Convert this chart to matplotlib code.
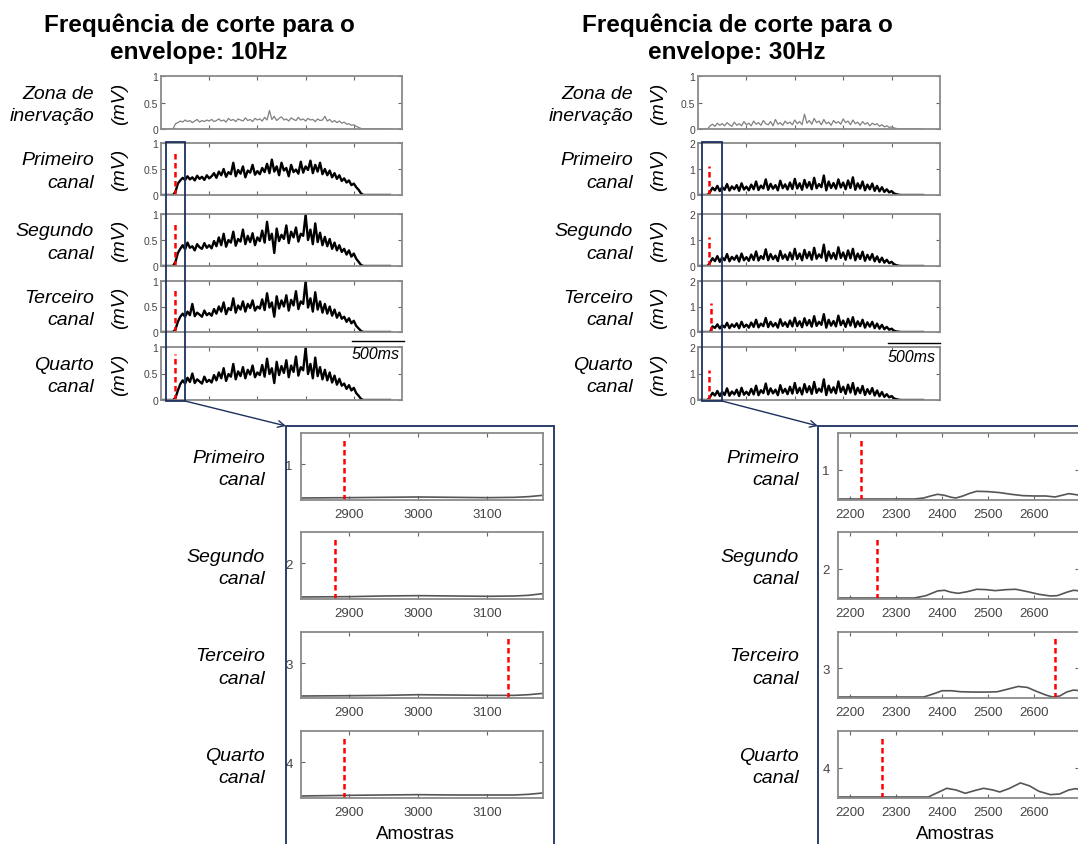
import numpy as np
import matplotlib
matplotlib.use('Agg')
import matplotlib.pyplot as plt
from matplotlib.patches import Rectangle, FancyArrowPatch
from matplotlib.lines import Line2D

plt.rcParams['font.family'] = ['Liberation Sans', 'DejaVu Sans']

# ---------------- data ----------------
step = 50  # samples between points of the envelopes

titles = ['Frequência de corte para o\nenvelope: 10Hz',
          'Frequência de corte para o\nenvelope: 30Hz']
row_labels = ['Zona de\ninervação', 'Primeiro\ncanal', 'Segundo\ncanal',
              'Terceiro\ncanal', 'Quarto\ncanal']

zona10 = [0, 0, 0, 0, 0, 0,
          0.10, 0.12, 0.15, 0.13, 0.17, 0.14, 0.16, 0.12, 0.15, 0.18, 0.13, 0.16, 0.14, 0.17, 0.15,
          0.18, 0.14, 0.16, 0.19, 0.15, 0.17, 0.13, 0.20, 0.16, 0.18, 0.14, 0.19, 0.17, 0.15, 0.21, 0.16, 0.18, 0.14, 0.20, 0.17,
          0.19, 0.15, 0.22, 0.17, 0.35, 0.18, 0.24, 0.16, 0.20, 0.23, 0.17, 0.19, 0.15, 0.21, 0.18, 0.16, 0.22, 0.17, 0.19, 0.15,
          0.20, 0.17, 0.18, 0.14, 0.19, 0.16, 0.17, 0.24, 0.15, 0.18, 0.13, 0.16, 0.12, 0.15, 0.11,
          0.13, 0.09, 0.10, 0.07, 0.08, 0.05, 0.03, 0.01,
          0, 0, 0, 0, 0, 0, 0, 0, 0, 0, 0, 0]

env10_ch1 = [0, 0, 0, 0, 0, 0,
             0.06, 0.22, 0.28, 0.33, 0.29, 0.36, 0.30, 0.34, 0.28, 0.37, 0.31, 0.35, 0.29, 0.38, 0.32,
             0.36, 0.42, 0.33, 0.45, 0.38, 0.50, 0.35, 0.44, 0.40, 0.62, 0.36, 0.48, 0.41, 0.55, 0.34, 0.47, 0.43, 0.58, 0.39, 0.46,
             0.40, 0.52, 0.44, 0.60, 0.42, 0.68, 0.45, 0.55, 0.38, 0.62, 0.47, 0.52, 0.36, 0.58, 0.44, 0.49, 0.41, 0.64, 0.43, 0.55,
             0.48, 0.66, 0.42, 0.58, 0.45, 0.62, 0.40, 0.50, 0.38, 0.47, 0.34, 0.42, 0.31, 0.38, 0.27,
             0.32, 0.24, 0.28, 0.19, 0.22, 0.15, 0.10, 0.03,
             0, 0, 0, 0, 0, 0, 0, 0, 0, 0, 0, 0]
env10_ch2 = [0, 0, 0, 0, 0, 0,
             0.08, 0.25, 0.33, 0.40, 0.32, 0.45, 0.35, 0.38, 0.30, 0.42, 0.36, 0.33, 0.44, 0.35, 0.40,
             0.34, 0.48, 0.38, 0.55, 0.40, 0.62, 0.37, 0.50, 0.45, 0.66, 0.39, 0.52, 0.47, 0.70, 0.42, 0.58, 0.46, 0.63, 0.40, 0.55,
             0.48, 0.68, 0.45, 0.85, 0.50, 0.62, 0.25, 0.72, 0.48, 0.60, 0.52, 0.78, 0.44, 0.66, 0.55, 0.74, 0.47, 0.62, 0.58, 0.98,
             0.50, 0.70, 0.42, 0.82, 0.46, 0.64, 0.40, 0.56, 0.38, 0.52, 0.33, 0.45, 0.30, 0.40, 0.27,
             0.33, 0.22, 0.30, 0.18, 0.24, 0.14, 0.08, 0.02,
             0, 0, 0, 0, 0, 0, 0, 0, 0, 0, 0, 0]
env10_ch3 = [0, 0, 0, 0, 0, 0,
             0.05, 0.20, 0.30, 0.36, 0.30, 0.40, 0.33, 0.55, 0.31, 0.38, 0.34, 0.30, 0.42, 0.33, 0.37,
             0.32, 0.45, 0.36, 0.50, 0.40, 0.58, 0.35, 0.47, 0.43, 0.66, 0.38, 0.52, 0.44, 0.60, 0.40, 0.55, 0.47, 0.62, 0.42, 0.50,
             0.46, 0.64, 0.43, 0.76, 0.48, 0.58, 0.30, 0.70, 0.46, 0.62, 0.50, 0.72, 0.42, 0.63, 0.52, 0.80, 0.45, 0.60, 0.55, 0.99,
             0.48, 0.66, 0.40, 0.78, 0.44, 0.60, 0.38, 0.55, 0.36, 0.50, 0.32, 0.44, 0.28, 0.38, 0.26,
             0.30, 0.20, 0.27, 0.17, 0.22, 0.12, 0.07, 0.02,
             0, 0, 0, 0, 0, 0, 0, 0, 0, 0, 0, 0]
env10_ch4 = [0, 0, 0, 0, 0, 0,
             0.04, 0.18, 0.30, 0.37, 0.31, 0.42, 0.34, 0.50, 0.32, 0.39, 0.35, 0.31, 0.44, 0.34, 0.38,
             0.33, 0.47, 0.37, 0.52, 0.41, 0.60, 0.36, 0.49, 0.44, 0.68, 0.39, 0.54, 0.45, 0.62, 0.41, 0.57, 0.48, 0.65, 0.43, 0.52,
             0.47, 0.66, 0.44, 0.78, 0.49, 0.60, 0.32, 0.72, 0.47, 0.64, 0.51, 0.75, 0.43, 0.65, 0.53, 0.82, 0.46, 0.62, 0.56, 0.98,
             0.49, 0.68, 0.41, 0.80, 0.45, 0.62, 0.39, 0.57, 0.37, 0.52, 0.33, 0.46, 0.29, 0.40, 0.27,
             0.31, 0.21, 0.28, 0.18, 0.23, 0.13, 0.08, 0.02,
             0, 0, 0, 0, 0, 0, 0, 0, 0, 0, 0, 0]

zona30 = [0, 0, 0, 0, 0,
          0.06, 0.09, 0.05, 0.11, 0.07, 0.10, 0.06, 0.12, 0.08, 0.05, 0.13, 0.07, 0.10, 0.06, 0.14, 0.08,
          0.11, 0.06, 0.15, 0.09, 0.12, 0.07, 0.16, 0.10, 0.08, 0.14, 0.06, 0.18, 0.09, 0.12, 0.07, 0.15, 0.10, 0.13, 0.08, 0.17,
          0.10, 0.14, 0.08, 0.28, 0.11, 0.16, 0.09, 0.20, 0.12, 0.15, 0.08, 0.18, 0.10, 0.13, 0.07, 0.16, 0.11, 0.14, 0.09, 0.19,
          0.12, 0.15, 0.08, 0.17, 0.10, 0.13, 0.07, 0.14, 0.09, 0.12, 0.06, 0.11, 0.08, 0.10, 0.05,
          0.08, 0.04, 0.06, 0.03, 0.04, 0.02, 0.01, 0.0,
          0, 0, 0, 0, 0, 0, 0, 0, 0, 0]

env30_ch1 = [0, 0, 0, 0, 0,
             0.12, 0.28, 0.18, 0.35, 0.15, 0.30, 0.20, 0.42, 0.17, 0.33, 0.22, 0.38, 0.16, 0.45, 0.21, 0.32,
             0.18, 0.40, 0.22, 0.52, 0.19, 0.36, 0.25, 0.60, 0.20, 0.43, 0.24, 0.38, 0.18, 0.55, 0.26, 0.41, 0.21, 0.48, 0.23, 0.62,
             0.25, 0.45, 0.20, 0.58, 0.28, 0.50, 0.22, 0.66, 0.26, 0.42, 0.30, 0.75, 0.18, 0.52, 0.27, 0.46, 0.24, 0.60, 0.29, 0.48,
             0.22, 0.56, 0.27, 0.68, 0.20, 0.45, 0.25, 0.52, 0.18, 0.40, 0.22, 0.44, 0.16, 0.35, 0.14,
             0.30, 0.12, 0.22, 0.10, 0.15, 0.06, 0.03, 0.01,
             0, 0, 0, 0, 0, 0, 0, 0, 0, 0]
env30_ch2 = [0, 0, 0, 0, 0,
             0.14, 0.30, 0.19, 0.38, 0.16, 0.33, 0.22, 0.46, 0.18, 0.35, 0.24, 0.40, 0.17, 0.48, 0.22, 0.34,
             0.20, 0.44, 0.23, 0.56, 0.21, 0.38, 0.27, 0.64, 0.22, 0.46, 0.26, 0.40, 0.19, 0.58, 0.28, 0.44, 0.23, 0.52, 0.25, 0.66,
             0.27, 0.48, 0.22, 0.62, 0.30, 0.54, 0.24, 0.70, 0.28, 0.45, 0.32, 0.82, 0.20, 0.56, 0.29, 0.50, 0.26, 0.72, 0.31, 0.52,
             0.24, 0.60, 0.29, 0.66, 0.22, 0.48, 0.27, 0.55, 0.20, 0.43, 0.24, 0.46, 0.18, 0.37, 0.15,
             0.32, 0.13, 0.24, 0.11, 0.16, 0.07, 0.03, 0.01,
             0, 0, 0, 0, 0, 0, 0, 0, 0, 0]
env30_ch3 = [0, 0, 0, 0, 0, 0,
             0.22, 0.16, 0.30, 0.14, 0.27, 0.18, 0.36, 0.15, 0.30, 0.20, 0.34, 0.15, 0.40, 0.19, 0.29,
             0.17, 0.37, 0.20, 0.48, 0.18, 0.33, 0.23, 0.55, 0.19, 0.40, 0.22, 0.35, 0.17, 0.50, 0.24, 0.38, 0.20, 0.45, 0.22, 0.56,
             0.23, 0.42, 0.19, 0.54, 0.26, 0.47, 0.21, 0.62, 0.24, 0.40, 0.28, 0.70, 0.17, 0.48, 0.25, 0.43, 0.22, 0.64, 0.27, 0.45,
             0.20, 0.52, 0.25, 0.58, 0.19, 0.42, 0.23, 0.48, 0.17, 0.38, 0.21, 0.40, 0.15, 0.33, 0.13,
             0.28, 0.11, 0.20, 0.09, 0.13, 0.05, 0.02, 0.01,
             0, 0, 0, 0, 0, 0, 0, 0, 0, 0]
env30_ch4 = [0, 0, 0, 0, 0,
             0.12, 0.27, 0.17, 0.34, 0.15, 0.31, 0.19, 0.44, 0.16, 0.32, 0.21, 0.39, 0.15, 0.46, 0.20, 0.31,
             0.19, 0.42, 0.21, 0.54, 0.18, 0.37, 0.26, 0.62, 0.21, 0.44, 0.25, 0.39, 0.18, 0.56, 0.27, 0.42, 0.22, 0.50, 0.24, 0.64,
             0.26, 0.46, 0.21, 0.60, 0.29, 0.52, 0.23, 0.68, 0.27, 0.43, 0.31, 0.78, 0.19, 0.54, 0.28, 0.48, 0.25, 0.70, 0.30, 0.50,
             0.23, 0.58, 0.28, 0.64, 0.21, 0.46, 0.26, 0.53, 0.19, 0.41, 0.23, 0.45, 0.17, 0.36, 0.14,
             0.30, 0.12, 0.22, 0.10, 0.15, 0.06, 0.03, 0.01,
             0, 0, 0, 0, 0, 0, 0, 0, 0, 0]

# onset markers (samples) on the overview plots
onset10 = [290, 290, 300, 290]
onset30 = [227, 227, 268, 227]

# zoomed windows (Amostras)
zoom10_x = [2830, 2900, 2950, 3000, 3050, 3100, 3140, 3160, 3181]
zoom10_y = [[0.030, 0.035, 0.040, 0.045, 0.040, 0.035, 0.040, 0.050, 0.070],
            [0.030, 0.035, 0.045, 0.050, 0.045, 0.040, 0.045, 0.055, 0.080],
            [0.030, 0.035, 0.040, 0.050, 0.045, 0.040, 0.040, 0.050, 0.070],
            [0.030, 0.040, 0.045, 0.050, 0.045, 0.045, 0.045, 0.055, 0.075]]
red10 = [2893, 2880, 3130, 2893]

zoom30_x = [[2174, 2250, 2340, 2360, 2375, 2390, 2405, 2420, 2430, 2445, 2460, 2475, 2500, 2525, 2550, 2575, 2600, 2625, 2645, 2660, 2675, 2690, 2700],
            [2174, 2250, 2340, 2365, 2390, 2405, 2420, 2435, 2455, 2475, 2495, 2515, 2540, 2560, 2585, 2610, 2635, 2650, 2670, 2685, 2700],
            [2174, 2250, 2360, 2380, 2400, 2420, 2440, 2470, 2500, 2520, 2540, 2565, 2585, 2605, 2625, 2640, 2655, 2670, 2685, 2700],
            [2174, 2250, 2370, 2390, 2410, 2430, 2450, 2470, 2490, 2510, 2525, 2545, 2570, 2590, 2610, 2635, 2655, 2675, 2690, 2700]]
zoom30_y = [[0.015, 0.015, 0.015, 0.03, 0.06, 0.085, 0.07, 0.04, 0.03, 0.06, 0.10, 0.13, 0.125, 0.11, 0.085, 0.065, 0.06, 0.06, 0.045, 0.07, 0.095, 0.08, 0.07],
            [0.015, 0.015, 0.015, 0.05, 0.12, 0.13, 0.10, 0.085, 0.11, 0.145, 0.14, 0.125, 0.14, 0.145, 0.11, 0.07, 0.045, 0.05, 0.10, 0.13, 0.12],
            [0.015, 0.015, 0.015, 0.06, 0.11, 0.11, 0.095, 0.09, 0.09, 0.095, 0.13, 0.175, 0.16, 0.10, 0.045, 0.015, 0.03, 0.09, 0.12, 0.11],
            [0.015, 0.015, 0.015, 0.08, 0.145, 0.12, 0.07, 0.11, 0.145, 0.12, 0.09, 0.14, 0.225, 0.18, 0.10, 0.05, 0.06, 0.12, 0.14, 0.12]]
red30 = [2224, 2258, 2645, 2269]

# ---------------- figure ----------------
W, H = 1078, 845
fig = plt.figure(figsize=(W / 100, H / 100), dpi=100)
navy = '#1c2f5e'
spine_c = '#8a8a8a'
tick_c = '#444444'


def add_ax(x0, y0, x1, y1):
    return fig.add_axes([x0 / W, 1 - y1 / H, (x1 - x0) / W, (y1 - y0) / H])


def fpt(x, y):
    return (x / W, 1 - y / H)


def style(ax, lsize, pad=2):
    for s in ax.spines.values():
        s.set_color(spine_c)
        s.set_linewidth(1.3)
    ax.tick_params(direction='in', top=True, right=True, length=3, width=0.8,
                   color='#666666', labelsize=lsize, labelcolor=tick_c, pad=pad)


def red_line(ax, x, top):
    ax.axvline(x, ymin=0, ymax=top, color='red', lw=1.8, ls=(0, (2.2, 1.4)))


rows = [(77, 130), (144, 196), (215, 267), (282, 333), (348, 401)]
cols = [(161, 402), (698, 940)]
env = [[zona10, env10_ch1, env10_ch2, env10_ch3, env10_ch4],
       [zona30, env30_ch1, env30_ch2, env30_ch3, env30_ch4]]
onsets = [onset10, onset30]
red_tops = [0.87, 0.56]
label_x = [94, 633]
mv_x = [120, 659]
title_x = [199, 737]

for c in range(2):
    fig.text(title_x[c] / W, 1 - 39 / H, titles[c], ha='center', va='center',
             fontsize=17.5, fontweight='bold', linespacing=1.2)
    for r in range(5):
        y0, y1 = rows[r]
        ax = add_ax(cols[c][0], y0, cols[c][1], y1)
        yy = env[c][r]
        xx = np.arange(len(yy)) * step
        if r == 0:
            ax.plot(xx, yy, color='#808080', lw=0.9)
            ax.set_ylim(0, 1)
            ax.set_yticks([0, 0.5, 1])
            ax.set_yticklabels(['0', '0.5', '1'])
        else:
            ax.plot(xx, yy, color='black', lw=1.7)
            if c == 0:
                ax.set_ylim(0, 1)
                ax.set_yticks([0, 0.5, 1])
                ax.set_yticklabels(['0', '0.5', '1'])
            else:
                ax.set_ylim(0, 2)
                ax.set_yticks([0, 1, 2])
                ax.set_yticklabels(['0', '1', '2'])
            red_line(ax, onsets[c][r - 1], red_tops[c])
        ax.set_xlim(0, 5000)
        ax.set_xticks([1000, 2000, 3000, 4000])
        ax.set_xticklabels([])
        style(ax, 7.5)
        yc = (y0 + y1) / 2 + 2
        fig.text(label_x[c] / W, 1 - yc / H, row_labels[r], ha='right', va='center',
                 fontsize=14, style='italic', linespacing=1.45)
        fig.text(mv_x[c] / W, 1 - (yc - 2) / H, '(mV)', ha='center', va='center',
                 fontsize=14, style='italic', rotation=90)

# scale bars 500ms
for x0, x1, yb, xt in [(352, 404, 342, 400), (888, 940, 344, 936)]:
    fig.add_artist(Line2D([x0 / W, x1 / W], [1 - yb / H, 1 - yb / H], color='black', lw=1))
    fig.text(xt / W, 1 - (yb + 13) / H, '500ms', ha='right', va='center',
             fontsize=11.5, style='italic')

# zoomed panels
low_rows = [(434, 501), (533, 600), (633, 699), (732, 799)]
low_labels = row_labels[1:]
for r in range(4):
    y0, y1 = low_rows[r]
    ch = r + 1
    # 10 Hz
    ax = add_ax(301, y0, 543, y1)
    ax.plot(zoom10_x, [ch - 0.53 + v for v in zoom10_y[r]], color='#555555', lw=1.2)
    ax.set_xlim(2830, 3181)
    ax.set_ylim(ch - 0.53, ch + 0.47)
    ax.set_xticks([2900, 3000, 3100])
    ax.set_yticks([ch])
    red_line(ax, red10[r], 0.91)
    style(ax, 9.5, pad=6)
    fig.text(265 / W, 1 - ((y0 + y1) / 2 + 2) / H, low_labels[r], ha='right', va='center',
             fontsize=14, style='italic', linespacing=1.45)
    # 30 Hz
    ax = add_ax(838, y0, 1079, y1)
    ax.plot(zoom30_x[r], [ch - 0.45 + v for v in zoom30_y[r]], color='#555555', lw=1.2)
    ax.set_xlim(2174, 2697)
    ax.set_ylim(ch - 0.45, ch + 0.55)
    ax.set_xticks([2200, 2300, 2400, 2500, 2600])
    ax.set_yticks([ch])
    red_line(ax, red30[r], 0.91)
    style(ax, 9.5, pad=6)
    fig.text(799 / W, 1 - ((y0 + y1) / 2 + 2) / H, low_labels[r], ha='right', va='center',
             fontsize=14, style='italic', linespacing=1.45)

fig.text(415 / W, 1 - 835 / H, 'Amostras', ha='center', va='center', fontsize=13.5)
fig.text(955 / W, 1 - 835 / H, 'Amostras', ha='center', va='center', fontsize=13.5)

# blue zoom boxes + connectors
for (x0, y0, x1, y1) in [(166, 143, 185, 402), (702, 143, 722, 402),
                         (286, 427, 554, 860), (818, 427, 1100, 860)]:
    fig.add_artist(Rectangle(fpt(x0, y1), (x1 - x0) / W, (y1 - y0) / H,
                             transform=fig.transFigure, fill=False, ec=navy, lw=1.3))
for p0, p1 in [((185, 402), (286, 427)), ((722, 402), (818, 427))]:
    fig.add_artist(FancyArrowPatch(fpt(*p0), fpt(*p1), transform=fig.transFigure,
                                   arrowstyle='->', mutation_scale=12, color=navy, lw=1.0,
                                   shrinkA=0, shrinkB=0))

fig.savefig('out.png', dpi=100)
